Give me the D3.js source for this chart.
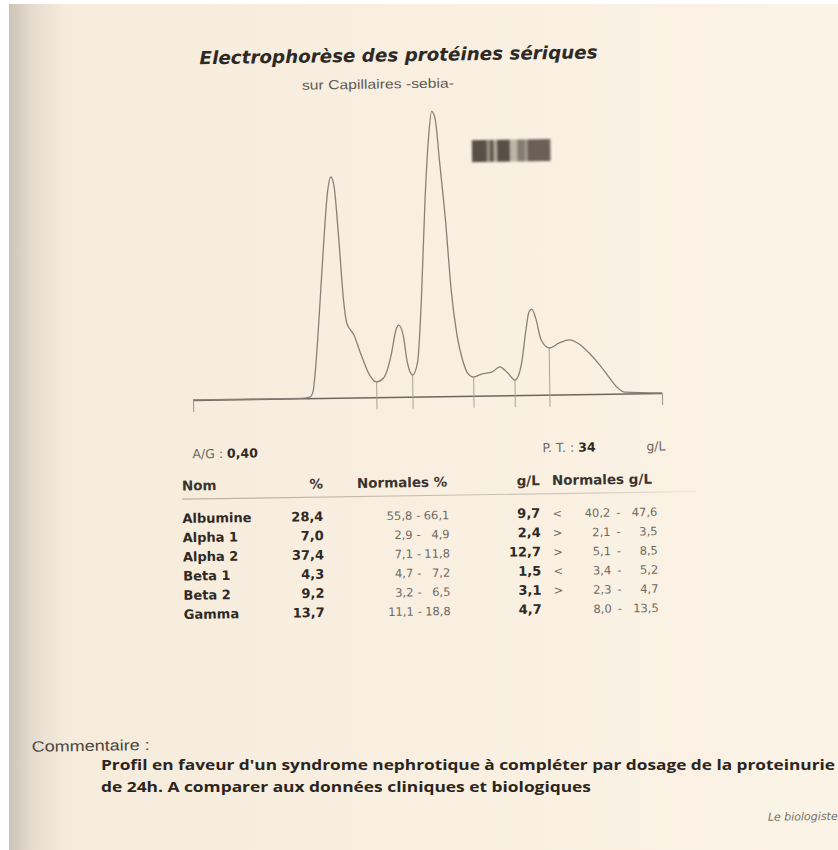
<!DOCTYPE html>
<html>
<head>
<meta charset="utf-8">
<script src="https://cdn.jsdelivr.net/npm/d3@7"></script>
<style>
  body { margin: 0; background: #fff; }
  svg { display: block; }
</style>
</head>
<body>
<svg width="838" height="850"></svg>
<script>
// Electropherogram: migration position (0-100) and signal height (alpha 2 peak = 100)
const positions = [0, 22.8, 24.9, 25.6, 26.2, 27.1, 28.4, 29.4, 30.1, 30.7, 31.6, 32.4, 33.0, 34.5, 36.0, 37.7,
  39.2, 40.7, 42.4, 43.5, 44.1, 45.0, 45.8, 46.9, 48.0, 49.0, 50.1, 51.0, 51.8, 52.5, 53.3, 54.4, 55.4,
  56.5, 57.6, 58.6, 59.9, 61.6, 63.8, 65.5, 67.2, 68.7, 70.1, 71.2, 71.9, 72.5, 73.3, 74.4, 76.1, 78.3,
  80.4, 82.5, 84.6, 86.8, 88.9, 90.6, 92.1, 100];
const signal = [0, 0, 0.4, 2.2, 9.9, 27.4, 55.4, 73, 77.5, 74.7, 55.4, 34.4, 26.3, 22, 14.9, 7.9,
  5.4, 6.7, 14.8, 23.6, 25.2, 21.7, 12.2, 7.6, 12.1, 33.9, 69, 90, 100, 97.5, 82.7, 61.6, 37,
  21.2, 12.6, 8.1, 6.6, 7.6, 8.2, 10, 7.8, 5.3, 10.6, 22.8, 29.1, 30.1, 27, 19.3, 16.4, 18.1,
  19.1, 17.6, 14.4, 10.2, 5.5, 2, 0.5, 0];
// fraction boundaries on the migration axis
const cuts = [39.2, 46.9, 59.9, 68.7, 76.1];

// gel strip: band edges (0-100 across the strip) and darkness
const gelEdges = [0, 19, 23, 28, 32, 49, 58, 68, 71, 100];
const gelShade = [0.85, 0.5, 0.8, 0.35, 0.85, 0.3, 0.6, 0.4, 0.75];

// results table
const fractions = ["Albumine", "Alpha 1", "Alpha 2", "Beta 1", "Beta 2", "Gamma"];
const percents = ["28,4", "7,0", "37,4", "4,3", "9,2", "13,7"];
const normPctLow = ["55,8", "2,9", "7,1", "4,7", "3,2", "11,1"];
const normPctHigh = ["66,1", "4,9", "11,8", "7,2", "6,5", "18,8"];
const grams = ["9,7", "2,4", "12,7", "1,5", "3,1", "4,7"];
const flags = ["<", ">", ">", "<", ">", ""];
const normGLow = ["40,2", "2,1", "5,1", "3,4", "2,3", "8,0"];
const normGHigh = ["47,6", "3,5", "8,5", "5,2", "4,7", "13,5"];
const ratioAG = "0,40";
const totalProtein = "34";

const dark = "#2e2924";
const grey = "#6f6860";
const tableFont = "'DejaVu Sans', Verdana, sans-serif";

const svg = d3.select("svg");
const defs = svg.append("defs");

// paper background with the shadow of the photo on the left
const shade = defs.append("linearGradient").attr("id", "shade");
shade.append("stop").attr("offset", "0").attr("stop-color", "#cdc4b8");
shade.append("stop").attr("offset", "0.03").attr("stop-color", "#e6ddd0");
shade.append("stop").attr("offset", "0.07").attr("stop-color", "#f6ecdc");
shade.append("stop").attr("offset", "1").attr("stop-color", "#fbf3e6");
svg.append("rect").attr("width", 838).attr("height", 850).attr("fill", "#ffffff");
svg.append("rect").attr("x", 9).attr("y", 4).attr("width", 829).attr("height", 846).attr("fill", "url(#shade)");

defs.append("filter").attr("id", "blur")
  .append("feGaussianBlur").attr("stdDeviation", 1.2);

// the page is photographed slightly rotated
const page = svg.append("g").attr("transform", "rotate(-0.85 419 425)");

// title
page.append("text")
  .attr("x", 205).attr("y", 61)
  .attr("font-family", tableFont).attr("font-weight", "bold").attr("font-style", "italic")
  .attr("font-size", 18).attr("fill", dark)
  .attr("textLength", 398).attr("lengthAdjust", "spacingAndGlyphs")
  .text("Electrophorèse des protéines sériques");

page.append("text")
  .attr("x", 307).attr("y", 88)
  .attr("font-family", "'Liberation Sans', Arial, sans-serif")
  .attr("font-size", 13).attr("fill", "#5f5952")
  .attr("textLength", 152).attr("lengthAdjust", "spacingAndGlyphs")
  .text("sur Capillaires -sebia-");

// chart
const x = d3.scaleLinear().domain([0, 100]).range([193.4, 662.4]);
const y = d3.scaleLinear().domain([0, 100]).range([396.6, 111.6]);
const points = positions.map((p, i) => ({p, s: signal[i]}));

// baseline with end ticks
page.append("g")
  .attr("transform", `translate(0,${y(0)})`)
  .call(d3.axisBottom(x).tickValues([0, 100]).tickSize(12).tickSizeOuter(0).tickFormat(""))
  .call(g => g.select(".domain").attr("stroke", "#6e6760").attr("stroke-width", 1.4))
  .call(g => g.selectAll(".tick line").attr("stroke", "#9a938b").attr("stroke-width", 1));

// fraction dividers from the curve down below the baseline
const heightAt = p => {
  const i = d3.bisectLeft(positions, p);
  if (positions[i] === p) return signal[i];
  const t = (p - positions[i - 1]) / (positions[i] - positions[i - 1]);
  return signal[i - 1] + t * (signal[i] - signal[i - 1]);
};
page.append("g")
  .selectAll("line")
  .data(cuts)
  .enter().append("line")
  .attr("x1", d => x(d)).attr("x2", d => x(d))
  .attr("y1", d => y(heightAt(d))).attr("y2", y(0) + 12)
  .attr("stroke", "#aaa39a").attr("stroke-width", 1);

const line = d3.line()
  .x(d => x(d.p))
  .y(d => y(d.s))
  .curve(d3.curveMonotoneX);

page.append("path")
  .datum(points)
  .attr("fill", "none")
  .attr("stroke", "#888179")
  .attr("stroke-width", 1.3)
  .attr("stroke-linejoin", "round")
  .attr("d", line);

// gel strip
const gx = d3.scaleLinear().domain([0, 100]).range([476, 554]);
const gelColor = d3.interpolateRgb("#f6ecdc", "#3c332c");
page.append("g")
  .attr("filter", "url(#blur)")
  .selectAll("rect")
  .data(gelShade)
  .enter().append("rect")
  .attr("x", (d, i) => gx(gelEdges[i]))
  .attr("width", (d, i) => gx(gelEdges[i + 1]) - gx(gelEdges[i]) + 0.5)
  .attr("y", 141).attr("height", 22)
  .attr("fill", d => gelColor(d));

// summary line
const summary = page.append("g").attr("font-family", tableFont).attr("font-size", 12.5);
const ag = summary.append("text").attr("x", 192).attr("y", 455);
ag.append("tspan").attr("fill", grey).text("A/G : ");
ag.append("tspan").attr("fill", dark).attr("font-weight", "bold").text(ratioAG);
const pt = summary.append("text").attr("x", 542).attr("y", 454);
pt.append("tspan").attr("fill", grey).text("P. T. : ");
pt.append("tspan").attr("fill", dark).attr("font-weight", "bold").text(totalProtein);
summary.append("text").attr("x", 646).attr("y", 454).attr("fill", grey).text("g/L");

// table header
const table = page.append("g").attr("font-family", tableFont);
const header = [
  {t: "Nom", x: 181, a: "start"},
  {t: "%", x: 322, a: "end"},
  {t: "Normales %", x: 356, a: "start"},
  {t: "g/L", x: 539, a: "end"},
  {t: "Normales g/L", x: 551, a: "start"}
];
table.append("g").selectAll("text")
  .data(header)
  .enter().append("text")
  .attr("x", d => d.x).attr("y", 487)
  .attr("text-anchor", d => d.a)
  .attr("font-size", 13.5).attr("font-weight", "bold").attr("fill", "#3a342e")
  .text(d => d.t);

const rule = d3.scaleLinear().domain([0, 1]).range([181, 695]);
const ruleGrad = defs.append("linearGradient").attr("id", "rule");
ruleGrad.append("stop").attr("offset", "0").attr("stop-color", "#b9b1a6");
ruleGrad.append("stop").attr("offset", "0.8").attr("stop-color", "#cfc7bb");
ruleGrad.append("stop").attr("offset", "1").attr("stop-color", "#f0e7d9");
table.append("rect")
  .attr("x", rule(0)).attr("width", rule(1) - rule(0))
  .attr("y", 495).attr("height", 1.2)
  .attr("fill", "url(#rule)");

// rows
const row = d3.scalePoint().domain(fractions).range([519.5, 615.5]);
const columns = [
  {vals: fractions, x: 181, a: "start", bold: true},
  {vals: percents, x: 322, a: "end", bold: true},
  {vals: normPctLow, x: 411, a: "end", bold: false},
  {vals: fractions.map(() => "-"), x: 417, a: "middle", bold: false},
  {vals: normPctHigh, x: 448, a: "end", bold: false},
  {vals: grams, x: 539, a: "end", bold: true},
  {vals: flags, x: 556, a: "middle", bold: false},
  {vals: normGLow, x: 609, a: "end", bold: false},
  {vals: fractions.map(() => "-"), x: 617, a: "middle", bold: false},
  {vals: normGHigh, x: 656, a: "end", bold: false}
];
columns.forEach(col => {
  table.append("g").selectAll("text")
    .data(col.vals)
    .enter().append("text")
    .attr("x", col.x)
    .attr("y", (d, i) => row(fractions[i]))
    .attr("text-anchor", col.a)
    .attr("font-size", col.bold ? 13 : 11.5)
    .attr("font-weight", col.bold ? "bold" : "normal")
    .attr("fill", col.bold ? dark : grey)
    .text(d => d);
});

// comment
page.append("text")
  .attr("x", 27).attr("y", 746)
  .attr("font-family", "'Liberation Sans', Arial, sans-serif")
  .attr("font-size", 15).attr("fill", "#4a443e")
  .attr("textLength", 118).attr("lengthAdjust", "spacingAndGlyphs")
  .text("Commentaire :");

// the two long comment lines are kept level so their boxes do not overlap
const commentLines = [
  "Profil en faveur d'un syndrome nephrotique à compléter par dosage de la proteinurie",
  "de 24h. A comparer aux données cliniques et biologiques"
];
const commentWidths = [734, 490];
svg.append("g").selectAll("text")
  .data(commentLines)
  .enter().append("text")
  .attr("x", 101)
  .attr("y", (d, i) => 770 + i * 21.5)
  .attr("font-family", "'Open Sans', sans-serif")
  .attr("font-size", 14.5).attr("font-weight", "bold").attr("fill", "#2a2520")
  .attr("textLength", (d, i) => commentWidths[i]).attr("lengthAdjust", "spacingAndGlyphs")
  .text(d => d);

page.append("text")
  .attr("x", 762).attr("y", 826)
  .attr("font-family", tableFont).attr("font-style", "italic")
  .attr("font-size", 11).attr("fill", "#77706a")
  .text("Le biologiste");
</script>
</body>
</html>
